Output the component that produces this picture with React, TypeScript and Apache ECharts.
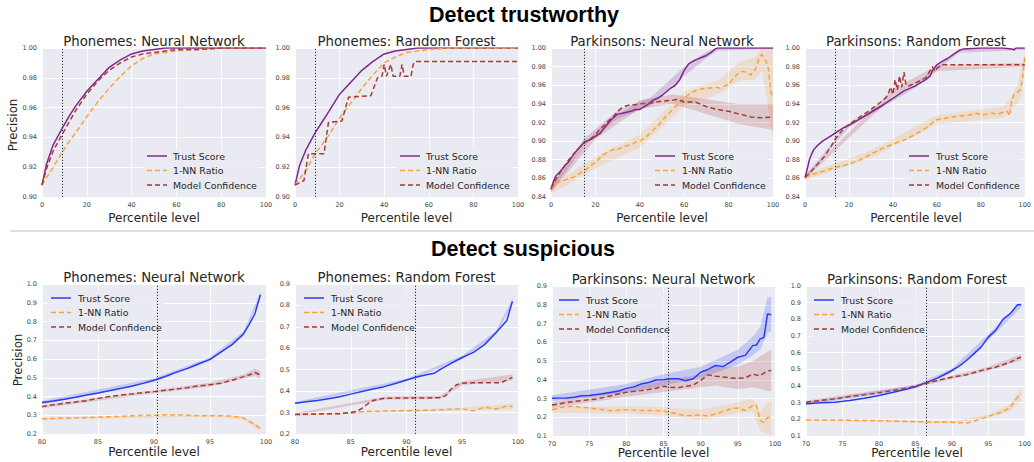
import React, { useEffect, useRef } from 'react';
import * as echarts from 'echarts';

// ---------------- DATA ----------------
const HEADINGS = ['Detect trustworthy', 'Detect suspicious'];
const TITLES = [
  'Phonemes: Neural Network', 'Phonemes: Random Forest', 'Parkinsons: Neural Network', 'Parkinsons: Random Forest',
  'Phonemes: Neural Network', 'Phonemes: Random Forest', 'Parkinsons: Neural Network', 'Parkinsons: Random Forest',
];
const SERIES_NAMES = ['Trust Score', '1-NN Ratio', 'Model Confidence'];
const X_NAME = 'Percentile level';
const Y_NAME = 'Precision';
const THRESHOLDS = [9, 9, 15, 13.8, 90.3, 90.8, 85.6, 86.5];

// Panel 1: Phonemes NN (trustworthy)
const X1 = [0, 2, 5, 9, 12, 15, 20, 25, 30, 35, 40, 45, 50, 55, 60, 70, 80, 90, 100];
const trust1 = [0.908, 0.922, 0.935, 0.946, 0.954, 0.961, 0.971, 0.979, 0.987, 0.992, 0.996, 0.998, 0.999, 1.0, 1.0, 1.0, 1.0, 1.0, 1.0];
const nn1 = [0.908, 0.913, 0.920, 0.930, 0.937, 0.943, 0.954, 0.964, 0.973, 0.981, 0.988, 0.993, 0.996, 0.997, 0.998, 0.999, 1.0, 1.0, 1.0];
const mc1 = [0.908, 0.919, 0.931, 0.942, 0.950, 0.958, 0.969, 0.978, 0.985, 0.990, 0.994, 0.996, 0.997, 0.998, 0.999, 0.999, 1.0, 1.0, 1.0];

// Panel 2: Phonemes RF (trustworthy)
const X2 = [0, 2, 5, 9, 12, 15, 20, 25, 30, 35, 40, 45, 50, 55, 60, 70, 80, 90, 100];
const trust2 = [0.908, 0.921, 0.932, 0.943, 0.950, 0.957, 0.969, 0.977, 0.985, 0.991, 0.996, 0.998, 0.999, 1.0, 1.0, 1.0, 1.0, 1.0, 1.0];
const nn2 = [0.908, 0.912, 0.918, 0.929, 0.935, 0.941, 0.953, 0.963, 0.973, 0.982, 0.990, 0.994, 0.997, 0.998, 0.999, 1.0, 1.0, 1.0, 1.0];
const X2M = [0, 4, 6, 13, 15, 21, 24, 34, 37, 39, 40, 41, 43, 44, 47, 48, 49, 52, 53, 54, 100];
const mc2 = [0.908, 0.911, 0.929, 0.929, 0.950, 0.951, 0.967, 0.968, 0.980, 0.981, 0.989, 0.981, 0.989, 0.981, 0.981, 0.989, 0.981, 0.981, 0.989, 0.991, 0.991];

// Panel 3: Parkinsons NN (trustworthy)
const X3T = [0, 1, 2, 4, 6, 8, 10, 12, 14, 15, 16, 18, 20, 22, 24, 26, 28, 30, 32, 34, 36, 38, 40, 42, 44, 46, 48, 50, 52, 54, 56, 58, 60, 62, 64, 66, 68, 70, 72, 74, 75, 100];
const trust3 = [0.848, 0.856, 0.862, 0.867, 0.873, 0.878, 0.885, 0.891, 0.896, 0.899, 0.900, 0.902, 0.905, 0.908, 0.914, 0.920, 0.925, 0.929, 0.930, 0.931, 0.932, 0.934, 0.934, 0.937, 0.940, 0.944, 0.946, 0.949, 0.953, 0.957, 0.960, 0.966, 0.976, 0.983, 0.986, 0.988, 0.990, 0.992, 0.995, 0.999, 1.0, 1.0];
const X3N = [0, 2, 4, 6, 8, 10, 12, 14, 16, 18, 20, 22, 24, 26, 28, 30, 32, 34, 36, 38, 40, 42, 44, 46, 48, 50, 52, 54, 56, 58, 60, 62, 64, 66, 68, 70, 72, 74, 76, 78, 80, 82, 84, 86, 88, 90, 92, 94, 95, 96, 97, 98, 99, 100];
const nn3 = [0.848, 0.855, 0.856, 0.858, 0.860, 0.861, 0.864, 0.867, 0.870, 0.874, 0.877, 0.882, 0.886, 0.889, 0.891, 0.891, 0.893, 0.895, 0.896, 0.899, 0.900, 0.903, 0.907, 0.912, 0.916, 0.922, 0.927, 0.932, 0.937, 0.941, 0.946, 0.950, 0.953, 0.955, 0.956, 0.957, 0.957, 0.958, 0.957, 0.959, 0.961, 0.967, 0.972, 0.975, 0.974, 0.971, 0.977, 0.991, 0.993, 0.989, 0.985, 0.977, 0.952, 0.948];
const X3M = [0, 2, 4, 6, 8, 10, 12, 14, 16, 18, 20, 22, 24, 26, 28, 30, 32, 34, 36, 38, 40, 45, 50, 55, 57, 60, 65, 70, 75, 80, 85, 90, 95, 100];
const mc3 = [0.849, 0.858, 0.866, 0.873, 0.880, 0.886, 0.891, 0.896, 0.900, 0.903, 0.906, 0.913, 0.917, 0.922, 0.926, 0.932, 0.936, 0.938, 0.939, 0.939, 0.940, 0.941, 0.943, 0.944, 0.945, 0.942, 0.942, 0.937, 0.934, 0.932, 0.929, 0.926, 0.925, 0.926];

// Panel 4: Parkinsons RF (trustworthy)
const X4T = [0, 1, 2, 3, 4, 6, 8, 10, 12, 14, 16, 18, 20, 25, 30, 35, 40, 45, 50, 55, 57, 58, 60, 62, 65, 68, 70, 72, 80, 90, 94, 95, 96, 100];
const trust4 = [0.861, 0.870, 0.880, 0.886, 0.891, 0.896, 0.900, 0.903, 0.906, 0.909, 0.912, 0.915, 0.917, 0.924, 0.931, 0.938, 0.946, 0.954, 0.959, 0.966, 0.970, 0.976, 0.982, 0.985, 0.989, 0.994, 0.997, 0.999, 1.0, 1.0, 0.999, 0.998, 1.0, 1.0];
const X4M = [0, 3, 6, 9, 12, 14, 16, 18, 20, 25, 30, 35, 37, 38, 39, 40, 41, 42, 43, 44, 45, 46, 47, 50, 55, 57, 58, 59, 60, 62, 65, 100];
const mc4 = [0.861, 0.868, 0.876, 0.884, 0.895, 0.903, 0.909, 0.914, 0.918, 0.926, 0.934, 0.943, 0.947, 0.952, 0.958, 0.950, 0.966, 0.955, 0.970, 0.958, 0.974, 0.960, 0.959, 0.962, 0.968, 0.976, 0.980, 0.975, 0.978, 0.982, 0.982, 0.982];
const X4N = [0, 3, 6, 10, 14, 18, 20, 25, 30, 35, 40, 45, 50, 55, 58, 60, 65, 70, 75, 78, 80, 85, 88, 90, 92, 93, 94, 95, 96, 97, 98, 99, 100];
const nn4 = [0.861, 0.864, 0.866, 0.869, 0.872, 0.874, 0.875, 0.880, 0.886, 0.892, 0.897, 0.901, 0.907, 0.914, 0.920, 0.923, 0.925, 0.927, 0.928, 0.930, 0.928, 0.930, 0.929, 0.931, 0.932, 0.927, 0.942, 0.950, 0.951, 0.953, 0.955, 0.968, 0.990];

// Panel 5: Phonemes NN (suspicious)
const X5 = [80, 81, 82, 83, 84, 85, 86, 87, 88, 89, 90, 91, 92, 93, 94, 95, 96, 97, 98, 98.5, 99, 99.5];
const trust5 = [0.368, 0.376, 0.385, 0.396, 0.408, 0.419, 0.431, 0.443, 0.455, 0.470, 0.487, 0.507, 0.530, 0.550, 0.575, 0.598, 0.638, 0.678, 0.735, 0.785, 0.840, 0.943];
const mc5 = [0.346, 0.356, 0.364, 0.371, 0.378, 0.390, 0.400, 0.407, 0.414, 0.420, 0.426, 0.433, 0.440, 0.447, 0.457, 0.463, 0.471, 0.487, 0.506, 0.515, 0.528, 0.515];
const nn5 = [0.281, 0.283, 0.285, 0.286, 0.288, 0.290, 0.292, 0.294, 0.297, 0.299, 0.300, 0.301, 0.302, 0.300, 0.297, 0.298, 0.297, 0.296, 0.285, 0.268, 0.252, 0.228];

// Panel 6: Phonemes RF (suspicious)
const X6 = [80, 81, 82, 83, 84, 85, 86, 87, 88, 89, 90, 91, 92, 92.5, 93, 94, 95, 96, 97, 98, 98.5, 99, 99.5];
const trust6 = [0.344, 0.350, 0.356, 0.365, 0.374, 0.386, 0.398, 0.410, 0.421, 0.436, 0.452, 0.467, 0.479, 0.484, 0.500, 0.530, 0.557, 0.581, 0.617, 0.671, 0.700, 0.730, 0.819];
const nn6 = [0.289, 0.291, 0.293, 0.295, 0.296, 0.297, 0.304, 0.306, 0.307, 0.308, 0.309, 0.310, 0.311, 0.312, 0.313, 0.315, 0.317, 0.308, 0.325, 0.317, 0.322, 0.331, 0.328];
const X6M = [80, 84, 85, 85.5, 86, 86.5, 87, 88, 90, 92, 93, 93.5, 94, 94.5, 95, 96, 97, 98, 98.5, 99, 99.5];
const mc6 = [0.292, 0.295, 0.300, 0.305, 0.320, 0.340, 0.356, 0.367, 0.368, 0.368, 0.370, 0.378, 0.410, 0.430, 0.437, 0.439, 0.439, 0.439, 0.440, 0.452, 0.464];

// Panel 7: Parkinsons NN (suspicious)
const X7 = [70, 71, 72, 73, 74, 75, 76, 77, 78, 79, 80, 81, 82, 83, 84, 85, 86, 87, 88, 89, 90, 91, 92, 93, 94, 95, 96, 97, 97.5, 98, 98.5, 99, 99.5];
const trust7 = [0.301, 0.302, 0.303, 0.307, 0.315, 0.316, 0.321, 0.327, 0.333, 0.340, 0.354, 0.362, 0.377, 0.385, 0.399, 0.400, 0.405, 0.405, 0.395, 0.405, 0.440, 0.455, 0.476, 0.470, 0.494, 0.520, 0.530, 0.582, 0.585, 0.618, 0.625, 0.752, 0.746];
const mc7 = [0.265, 0.272, 0.280, 0.284, 0.289, 0.293, 0.298, 0.306, 0.315, 0.325, 0.333, 0.338, 0.342, 0.348, 0.355, 0.365, 0.360, 0.358, 0.365, 0.372, 0.396, 0.426, 0.419, 0.415, 0.410, 0.408, 0.410, 0.430, 0.425, 0.422, 0.435, 0.447, 0.449];
const nn7 = [0.240, 0.250, 0.258, 0.258, 0.253, 0.250, 0.244, 0.240, 0.235, 0.238, 0.240, 0.238, 0.236, 0.236, 0.235, 0.232, 0.226, 0.215, 0.209, 0.210, 0.212, 0.207, 0.217, 0.230, 0.244, 0.249, 0.236, 0.262, 0.265, 0.182, 0.173, 0.199, 0.199];

// Panel 8: Parkinsons RF (suspicious)
const X8 = [70, 72, 74, 76, 78, 80, 82, 84, 85, 86, 87, 88, 89, 90, 91, 92, 93, 94, 95, 96, 97, 98, 99, 99.5];
const trust8 = [0.293, 0.299, 0.303, 0.313, 0.327, 0.343, 0.363, 0.383, 0.395, 0.413, 0.429, 0.447, 0.469, 0.493, 0.519, 0.553, 0.593, 0.633, 0.693, 0.734, 0.800, 0.834, 0.888, 0.888];
const mc8 = [0.303, 0.313, 0.323, 0.337, 0.347, 0.359, 0.373, 0.389, 0.400, 0.411, 0.422, 0.433, 0.443, 0.453, 0.460, 0.467, 0.480, 0.493, 0.503, 0.513, 0.528, 0.543, 0.565, 0.573];
const nn8 = [0.196, 0.196, 0.196, 0.195, 0.193, 0.192, 0.190, 0.187, 0.186, 0.185, 0.184, 0.182, 0.182, 0.182, 0.180, 0.178, 0.188, 0.202, 0.218, 0.232, 0.246, 0.272, 0.333, 0.353];

// Confidence bands: [x, low, high]
const band3T = [[0, 0.845, 0.852], [15, 0.895, 0.903], [30, 0.924, 0.933], [45, 0.938, 0.947], [60, 0.970, 0.980], [70, 0.989, 0.996], [75, 0.997, 1.0], [100, 0.999, 1.0]];
const band3N = [[0, 0.843, 0.853], [20, 0.871, 0.883], [40, 0.893, 0.907], [60, 0.938, 0.953], [75, 0.950, 0.965], [85, 0.965, 0.985], [92, 0.966, 0.990], [95, 0.975, 1.0], [98, 0.935, 1.0], [100, 0.900, 1.0]];
const band3M = [[0, 0.845, 0.853], [20, 0.902, 0.910], [40, 0.935, 0.944], [55, 0.940, 0.950], [70, 0.929, 0.945], [85, 0.918, 0.940], [100, 0.912, 0.940]];
const band4T = [[0, 0.859, 0.863], [20, 0.915, 0.919], [50, 0.957, 0.961], [70, 0.995, 0.999], [100, 0.998, 1.0]];
const band4N = [[0, 0.858, 0.864], [30, 0.882, 0.890], [60, 0.918, 0.928], [90, 0.925, 0.937], [94, 0.935, 0.948], [97, 0.940, 0.963], [99, 0.955, 0.985], [100, 0.980, 1.0]];
const band4M = [[0, 0.859, 0.863], [40, 0.948, 0.956], [60, 0.975, 0.981], [100, 0.980, 0.984]];
const band5T = [[80, 0.358, 0.378], [90, 0.478, 0.498], [95, 0.588, 0.608], [98, 0.723, 0.748], [99.5, 0.930, 0.955]];
const band5M = [[80, 0.338, 0.354], [90, 0.418, 0.434], [95, 0.453, 0.473], [98, 0.495, 0.518], [99, 0.510, 0.550], [99.5, 0.495, 0.535]];
const band5N = [[80, 0.276, 0.286], [95, 0.293, 0.303], [98, 0.278, 0.292], [99.5, 0.215, 0.240]];
const band6T = [[80, 0.339, 0.349], [90, 0.446, 0.458], [95, 0.550, 0.565], [98, 0.662, 0.680], [99.5, 0.805, 0.832]];
const band6M = [[80, 0.287, 0.297], [88, 0.360, 0.374], [93, 0.363, 0.377], [95, 0.428, 0.446], [99.5, 0.450, 0.478]];
const band6N = [[80, 0.285, 0.293], [95, 0.311, 0.323], [99.5, 0.315, 0.342]];
const band7T = [[70, 0.285, 0.317], [80, 0.330, 0.378], [85, 0.370, 0.430], [90, 0.410, 0.470], [95, 0.480, 0.560], [97, 0.530, 0.630], [98, 0.560, 0.680], [99, 0.650, 0.840], [99.5, 0.660, 0.840]];
const band7M = [[70, 0.250, 0.280], [80, 0.310, 0.355], [85, 0.335, 0.395], [90, 0.360, 0.430], [92, 0.370, 0.470], [95, 0.350, 0.470], [97, 0.360, 0.500], [99, 0.340, 0.550], [99.5, 0.340, 0.560]];
const band7N = [[70, 0.225, 0.255], [80, 0.220, 0.260], [85, 0.210, 0.255], [90, 0.185, 0.240], [95, 0.220, 0.280], [97, 0.230, 0.300], [98, 0.130, 0.230], [99, 0.110, 0.280], [99.5, 0.100, 0.290]];
const band8T = [[70, 0.285, 0.302], [85, 0.385, 0.405], [90, 0.480, 0.505], [95, 0.675, 0.710], [99.5, 0.870, 0.905]];
const band8M = [[70, 0.295, 0.311], [85, 0.392, 0.408], [95, 0.490, 0.516], [99.5, 0.555, 0.590]];
const band8N = [[70, 0.190, 0.202], [90, 0.176, 0.188], [95, 0.208, 0.228], [98, 0.250, 0.290], [99.5, 0.310, 0.390]];

// ---------------- STYLE ----------------
const PURPLE = '#80288C';
const BLUE = '#2A3CF2';
const ORANGE = '#F5A340';
const BROWN = '#A53A3A';
const BG = '#EAEAF2';
const FONT = '"DejaVu Sans", sans-serif';

const zip = (xs: number[], ys: number[]) => xs.map((x, i) => [x, ys[i]]);

const PANELS = [
  { left: 42, top: 48, width: 224, height: 149, x: [0, 100, 20], y: [0.9, 1.0, 0.02], dec: 2, tc: PURPLE,
    trust: zip(X1, trust1), nn: zip(X1, nn1), mc: zip(X1, mc1), bands: [] as any[],
    lg: { x0: 147, tx: 173, y0: 156 }, titleY: 41, nameY: 218 },
  { left: 295, top: 48, width: 223, height: 149, x: [0, 100, 20], y: [0.9, 1.0, 0.02], dec: 2, tc: PURPLE,
    trust: zip(X2, trust2), nn: zip(X2, nn2), mc: zip(X2M, mc2), bands: [],
    lg: { x0: 400, tx: 426, y0: 156 }, titleY: 41, nameY: 218 },
  { left: 551, top: 48, width: 222, height: 149, x: [0, 100, 20], y: [0.84, 1.0, 0.02], dec: 2, tc: PURPLE,
    trust: zip(X3T, trust3), nn: zip(X3N, nn3), mc: zip(X3M, mc3), bands: [band3T, band3N, band3M],
    lg: { x0: 655, tx: 682, y0: 156 }, titleY: 41, nameY: 218 },
  { left: 805, top: 48, width: 222, height: 149, x: [0, 100, 20], y: [0.84, 1.0, 0.02], dec: 2, tc: PURPLE,
    trust: zip(X4T, trust4), nn: zip(X4N, nn4), mc: zip(X4M, mc4), bands: [band4T, band4N, band4M],
    lg: { x0: 909, tx: 936, y0: 156 }, titleY: 41, nameY: 218 },
  { left: 42, top: 284, width: 224, height: 150, x: [80, 100, 5], y: [0.2, 1.0, 0.1], dec: 1, tc: BLUE,
    trust: zip(X5, trust5), nn: zip(X5, nn5), mc: zip(X5, mc5), bands: [band5T, band5N, band5M],
    lg: { x0: 51, tx: 78, y0: 298 }, titleY: 277, nameY: 452 },
  { left: 295, top: 284, width: 223, height: 150, x: [80, 100, 5], y: [0.2, 0.9, 0.1], dec: 1, tc: BLUE,
    trust: zip(X6, trust6), nn: zip(X6, nn6), mc: zip(X6M, mc6), bands: [band6T, band6N, band6M],
    lg: { x0: 304, tx: 331, y0: 298 }, titleY: 277, nameY: 452 },
  { left: 552, top: 286, width: 223, height: 150, x: [70, 100, 5], y: [0.1, 0.9, 0.1], dec: 1, tc: BLUE,
    trust: zip(X7, trust7), nn: zip(X7, nn7), mc: zip(X7, mc7), bands: [band7T, band7N, band7M],
    lg: { x0: 559, tx: 586, y0: 300 }, titleY: 279, nameY: 453 },
  { left: 806, top: 286, width: 222, height: 150, x: [70, 100, 5], y: [0.1, 1.0, 0.1], dec: 1, tc: BLUE,
    trust: zip(X8, trust8), nn: zip(X8, nn8), mc: zip(X8, mc8), bands: [band8T, band8N, band8M],
    lg: { x0: 814, tx: 841, y0: 300 }, titleY: 279, nameY: 453 },
];

function bandSeries(i: number, pts: number[][], color: string) {
  return {
    type: 'custom', xAxisIndex: i, yAxisIndex: i, silent: true, z: 1,
    data: pts, encode: { x: 0, y: [1, 2] },
    renderItem: (params: any, api: any) => {
      if (params.dataIndex !== 0) return null;
      const up = pts.map((p) => api.coord([p[0], p[2]]));
      const lo = pts.slice().reverse().map((p) => api.coord([p[0], p[1]]));
      return { type: 'polygon', shape: { points: up.concat(lo) }, style: { fill: color, opacity: 0.2 } };
    },
  };
}

function buildOption() {
  const grid: any[] = [];
  const xAxis: any[] = [];
  const yAxis: any[] = [];
  const series: any[] = [];
  const graphic: any[] = [];

  PANELS.forEach((p, i) => {
    grid.push({ left: p.left, top: p.top, width: p.width, height: p.height, show: true, backgroundColor: BG, borderWidth: 0 });
    xAxis.push({
      type: 'value', gridIndex: i, min: p.x[0], max: p.x[1], interval: p.x[2],
      axisLine: { show: false }, axisTick: { show: false },
      splitLine: { show: true, lineStyle: { color: '#ffffff', width: 1 } },
      axisLabel: { fontSize: 6.5, color: '#444', margin: 4, fontFamily: FONT },
    });
    yAxis.push({
      type: 'value', gridIndex: i, min: p.y[0], max: p.y[1], interval: p.y[2],
      axisLine: { show: false }, axisTick: { show: false },
      splitLine: { show: true, lineStyle: { color: '#ffffff', width: 1 } },
      axisLabel: { fontSize: 6.5, color: '#444', margin: 5, fontFamily: FONT, formatter: (v: number) => v.toFixed(p.dec) },
    });
    const colors = [p.tc, ORANGE, BROWN];
    p.bands.forEach((b: number[][], k: number) => series.push(bandSeries(i, b, colors[k])));
    const lines = [p.trust, p.nn, p.mc];
    lines.forEach((d, k) => {
      const s: any = {
        type: 'line', name: SERIES_NAMES[k], xAxisIndex: i, yAxisIndex: i, data: d,
        showSymbol: false, symbol: 'none', z: 3, clip: true,
        lineStyle: { color: colors[k], width: 1.5, type: k === 0 ? 'solid' : [5, 3] },
        itemStyle: { color: colors[k] },
      };
      if (k === 0) {
        s.markLine = {
          silent: true, symbol: ['none', 'none'], label: { show: false }, z: 4,
          lineStyle: { color: '#333', width: 1, type: [1.2, 1.8] },
          data: [{ xAxis: THRESHOLDS[i] }],
        };
      }
      series.push(s);
    });

    // title
    graphic.push({
      type: 'text', x: p.left + p.width / 2, y: p.titleY, silent: true,
      style: { text: TITLES[i], fill: '#262626', font: `13.3px ${FONT}`, textAlign: 'center', textVerticalAlign: 'middle' },
    });
    // x name
    graphic.push({
      type: 'text', x: p.left + p.width / 2, y: p.nameY, silent: true,
      style: { text: X_NAME, fill: '#262626', font: `12px ${FONT}`, textAlign: 'center', textVerticalAlign: 'middle' },
    });
    // legend
    const lg = p.lg;
    graphic.push({
      type: 'rect', z: 1, silent: true,
      shape: { x: lg.x0 - 4, y: lg.y0 - 8, width: lg.tx - lg.x0 + 90, height: 45 },
      style: { fill: BG, opacity: 0.8 },
    });
    SERIES_NAMES.forEach((nm, k) => {
      const yy = lg.y0 + k * 14.5;
      graphic.push({
        type: 'line', z: 5, silent: true,
        shape: { x1: lg.x0, y1: yy, x2: lg.x0 + 20, y2: yy },
        style: { stroke: colors[k], lineWidth: 1.5, lineDash: k === 0 ? null : [5, 3] },
      });
      graphic.push({
        type: 'text', z: 5, x: lg.tx, y: yy, silent: true,
        style: { text: nm, fill: '#262626', font: `9.4px ${FONT}`, textAlign: 'left', textVerticalAlign: 'middle' },
      });
    });
  });

  // y names
  graphic.push({
    type: 'text', x: 13, y: 125, rotation: Math.PI / 2, silent: true,
    style: { text: Y_NAME, fill: '#262626', font: `11.8px ${FONT}`, textAlign: 'center', textVerticalAlign: 'middle' },
  });
  graphic.push({
    type: 'text', x: 18, y: 360, rotation: Math.PI / 2, silent: true,
    style: { text: Y_NAME, fill: '#262626', font: `11.8px ${FONT}`, textAlign: 'center', textVerticalAlign: 'middle' },
  });
  // headings
  graphic.push({
    type: 'text', x: 524, y: 15, silent: true,
    style: { text: HEADINGS[0], fill: '#000', font: `bold 21.5px "Liberation Sans", Arial, sans-serif`, textAlign: 'center', textVerticalAlign: 'middle' },
  });
  graphic.push({
    type: 'text', x: 523, y: 249, silent: true,
    style: { text: HEADINGS[1], fill: '#000', font: `bold 21.5px "Liberation Sans", Arial, sans-serif`, textAlign: 'center', textVerticalAlign: 'middle' },
  });
  // separator
  graphic.push({
    type: 'line', silent: true,
    shape: { x1: 10, y1: 231, x2: 1034, y2: 231 },
    style: { stroke: '#d4d4d4', lineWidth: 1.5 },
  });

  return { animation: false, backgroundColor: '#ffffff', grid, xAxis, yAxis, series, graphic };
}

export default function App() {
  const ref = useRef<HTMLDivElement>(null);
  useEffect(() => {
    if (!ref.current) return;
    const chart = echarts.init(ref.current, undefined, { renderer: 'svg' });
    chart.setOption(buildOption() as any);
    return () => chart.dispose();
  }, []);
  return <div ref={ref} style={{ position: 'absolute', left: 0, top: 0, width: 1034, height: 462 }} />;
}
